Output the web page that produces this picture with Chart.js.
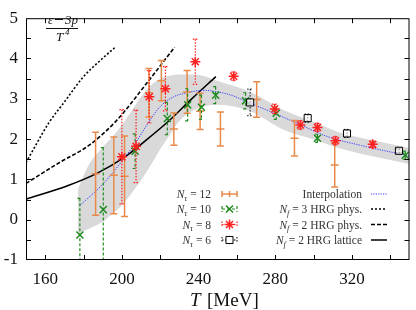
<!DOCTYPE html>
<html>
<head>
<meta charset="utf-8">
<script src="https://cdn.jsdelivr.net/npm/chart.js@4.4.1/dist/chart.umd.min.js"></script>
<style>
  body { margin: 0; background: #fff; }
  #wrap { width: 416px; height: 310px; }
</style>
</head>
<body>
<div id="wrap"><canvas id="chart" width="416" height="310"></canvas></div>
<script>
// values
const xTicks = [160, 200, 240, 280, 320];
const yTicks = [-1, 0, 1, 2, 3, 4, 5];

const nt12T = [186.3, 195.8, 201.4, 214.1, 220.6, 227.1, 234, 240.8, 251.4, 270.3, 290, 311];
const nt12V = [1.14, 1.10, 1.08, 3.15, 3.45, 2.25, 3.17, 2.69, 2.25, 2.98, 2.02, 1.36];
const nt12E = [1.03, 0.95, 1.0, 0.6, 0.5, 0.4, 0.53, 0.45, 0.42, 0.44, 0.44, 0.55];

const nt10T = [178.1, 190.3, 206.9, 223.7, 234.3, 241.5, 248.9, 264.5, 280.5, 302, 347.8];
const nt10V = [-0.38, 0.25, 1.70, 2.51, 2.85, 2.79, 3.09, 2.95, 2.64, 2.02, 1.60];
const nt10E = [0.91, 1.54, 0.43, 0.4, 0.4, 0.3, 0.21, 0.2, 0.15, 0.1, 0.1];

const nt8T = [200, 207.4, 214.3, 222.7, 238.3, 258.3, 279.7, 293.1, 302, 311.4, 330.8];
const nt8V = [1.56, 1.82, 3.05, 3.25, 3.92, 3.56, 2.75, 2.35, 2.29, 1.96, 1.87];
const nt8E = [1.17, 0.9, 0.65, 0.55, 0.56, 0.1, 0.12, 0.1, 0.1, 0.1, 0.08];

const nt6T = [266.9, 296.9, 317.4, 344.5];
const nt6V = [2.91, 2.52, 2.14, 1.71];
const nt6E = [0.33, 0.1, 0.1, 0.05];

const interpT = [178, 190, 200, 207, 214, 220, 227, 234, 243, 250, 257, 265, 281, 291, 308, 325, 350];
const interpV = [0.35, 0.88, 1.45, 1.9, 2.42, 2.81, 3.05, 3.15, 3.21, 3.17, 3.09, 2.93, 2.61, 2.40, 2.05, 1.84, 1.58];

const bandT  = [177, 183, 190, 195, 200, 205, 210, 215, 220, 225, 230, 238, 250, 267, 284, 301, 313, 330, 350];
const bandHi = [0.75, 1.38, 1.8, 2.05, 2.35, 2.7, 3.05, 3.33, 3.5, 3.57, 3.6, 3.6, 3.44, 3.17, 2.73, 2.41, 2.17, 1.98, 1.78];
const bandLo = [-0.36, -0.22, -0.05, 0.15, 0.35, 0.65, 0.98, 1.35, 1.75, 2.1, 2.45, 2.73, 2.85, 2.69, 2.24, 1.98, 1.78, 1.58, 1.38];

const hrg3T = [150, 162, 170, 180, 188, 197];
const hrg3V = [1.42, 2.41, 2.92, 3.55, 3.92, 4.30];
const hrg2T = [150, 167.5, 183, 197, 214, 227.5];
const hrg2V = [0.9, 1.42, 1.85, 2.45, 3.45, 4.28];
const latT = [150, 172, 187, 201, 212, 224, 236, 249];
const latV = [0.51, 0.85, 1.15, 1.54, 1.95, 2.43, 2.98, 3.55];

const pts = (xs, ys) => xs.map((x, i) => ({ x, y: ys[i] }));

const ORANGE = '#e8894a', GREEN = '#1f8a1f', RED = '#ff2020', BLUE = '#3a3aff';
const SERIF = '"Liberation Serif", "DejaVu Serif", serif';

// error bars drawn just before each marker dataset
const errorBars = {
    id: 'errorBars',
    beforeDatasetDraw(chart, args) {
        const ds = chart.data.datasets[args.index];
        if (!ds.errors) return;
        const { ctx, chartArea: a, scales: { x, y } } = chart;
        const c = ds.capSize;
        ctx.save();
        ctx.beginPath();
        ctx.rect(a.left, a.top, a.right - a.left, a.bottom - a.top);
        ctx.clip();
        ctx.strokeStyle = ds.errColor;
        ctx.lineWidth = ds.errWidth;
        ctx.setLineDash(ds.errDash);
        ds.data.forEach((p, i) => {
            const px = x.getPixelForValue(p.x);
            const top = y.getPixelForValue(p.y + ds.errors[i]);
            const bot = y.getPixelForValue(p.y - ds.errors[i]);
            ctx.beginPath();
            ctx.moveTo(px, top); ctx.lineTo(px, bot);
            ctx.moveTo(px - c, top); ctx.lineTo(px + c, top);
            ctx.moveTo(px - c, bot); ctx.lineTo(px + c, bot);
            ctx.stroke();
        });
        ctx.restore();
    }
};

// writes N_sub = ... style text, right aligned at xr
function mathText(ctx, parts, xr, y, size) {
    const fonts = parts.map(p => (p.it ? 'italic ' : '') + (p.sub ? size * 0.72 : size) + 'px ' + SERIF);
    let w = 0;
    parts.forEach((p, i) => { ctx.font = fonts[i]; w += ctx.measureText(p.t).width; });
    let x = xr - w;
    parts.forEach((p, i) => {
        ctx.font = fonts[i];
        ctx.fillText(p.t, x, y + (p.sub ? size * 0.25 : 0));
        x += ctx.measureText(p.t).width;
    });
}

const frame = {
    id: 'frame',
    afterDraw(chart) {
        const { ctx, chartArea: a, scales: { x, y } } = chart;
        ctx.save();
        ctx.textAlign = 'left';
        ctx.textBaseline = 'alphabetic';
        ctx.strokeStyle = '#000';
        ctx.lineWidth = 1;
        ctx.strokeRect(a.left + 0.5, a.top + 0.5, a.right - a.left - 1, a.bottom - a.top - 1);
        ctx.beginPath();
        for (let t = 160; t <= 340; t += 20) {
            const px = Math.round(x.getPixelForValue(t)) + 0.5;
            ctx.moveTo(px, a.bottom); ctx.lineTo(px, a.bottom - 5);
            ctx.moveTo(px, a.top); ctx.lineTo(px, a.top + 5);
        }
        for (let v = -0.5; v < 5; v += 0.5) {
            const py = Math.round(y.getPixelForValue(v)) + 0.5;
            ctx.moveTo(a.left, py); ctx.lineTo(a.left + 5, py);
            ctx.moveTo(a.right, py); ctx.lineTo(a.right - 5, py);
        }
        ctx.stroke();

        // axis title
        ctx.fillStyle = '#111';
        ctx.font = 'italic 19px ' + SERIF;
        ctx.fillText('T', 190, 306);
        ctx.font = '19px ' + SERIF;
        ctx.fillText('[MeV]', 207, 306);

        // (e-3p)/T^4 label
        ctx.font = 'italic 13px ' + SERIF;
        ctx.fillText('\u03B5', 48, 24);
        ctx.fillText('3p', 65, 24);
        ctx.fillText('T', 56, 41);
        ctx.font = 'italic 9px ' + SERIF;
        ctx.fillText('4', 65, 35);
        ctx.fillRect(55, 19, 8, 1);
        ctx.fillRect(46, 28, 32, 1);

        // legend
        ctx.fillStyle = '#333';
        const rows = [194, 209, 224.5, 240];
        const nt = ['12', '10', '8', '6'];
        nt.forEach((n, i) => {
            mathText(ctx, [{ t: 'N', it: true }, { t: '\u03C4', it: true, sub: true }, { t: ' = ' + n }], 211, rows[i] + 4, 11.5);
        });
        const right = [
            [{ t: 'Interpolation' }],
            [{ t: 'N', it: true }, { t: 'f', it: true, sub: true }, { t: ' = 3 HRG phys.' }],
            [{ t: 'N', it: true }, { t: 'f', it: true, sub: true }, { t: ' = 2 HRG phys.' }],
            [{ t: 'N', it: true }, { t: 'f', it: true, sub: true }, { t: ' = 2 HRG lattice' }]
        ];
        right.forEach((r, i) => mathText(ctx, r, 362, rows[i] + 4, 11.5));

        // legend symbols, left block
        const sx0 = 222, sx1 = 237, sm = 229.5;
        const sym = [[ORANGE, [], 1.5], [GREEN, [3, 2], 1.2], [RED, [1.5, 1.5], 1.2], ['#000', [1.5, 1.5], 1]];
        sym.forEach(([col, dash, lw], i) => {
            const ry = rows[i];
            ctx.strokeStyle = col; ctx.lineWidth = lw; ctx.setLineDash(dash);
            ctx.beginPath();
            ctx.moveTo(sx0, ry); ctx.lineTo(sx1, ry);
            ctx.moveTo(sx0, ry - 3); ctx.lineTo(sx0, ry + 3);
            ctx.moveTo(sx1, ry - 3); ctx.lineTo(sx1, ry + 3);
            ctx.stroke();
            ctx.setLineDash([]);
        });
        ctx.lineWidth = 1.5;
        ctx.strokeStyle = ORANGE;
        ctx.beginPath(); ctx.moveTo(sm, rows[0] - 3); ctx.lineTo(sm, rows[0] + 3); ctx.stroke();
        const markers = [['crossRot', GREEN, 'transparent'], ['star', RED, 'transparent'], ['rect', '#000', '#fff']];
        markers.forEach(([style, col, fill], i) => {
            ctx.strokeStyle = col; ctx.fillStyle = fill; ctx.lineWidth = style === 'rect' ? 1 : 1.5;
            Chart.helpers.drawPoint(ctx, { pointStyle: style, radius: 5, borderWidth: ctx.lineWidth }, sm, rows[i + 1]);
        });

        // legend symbols, right block
        const lines = [[BLUE, [1.2, 1.2], 1], ['#000', [2, 2], 1.5], ['#000', [4, 2], 1.5], ['#000', [], 1.5]];
        lines.forEach(([col, dash, lw], i) => {
            ctx.strokeStyle = col; ctx.lineWidth = lw; ctx.setLineDash(dash);
            ctx.beginPath(); ctx.moveTo(371, rows[i]); ctx.lineTo(387, rows[i]); ctx.stroke();
        });
        ctx.restore();
    }
};

const errSet = (label, T, V, E, o) => Object.assign({
    label, data: pts(T, V), errors: E, showLine: false, order: 1
}, o);
const curve = (label, T, V, o) => Object.assign({
    label, data: pts(T, V), showLine: true, pointRadius: 0, borderColor: '#000', borderWidth: 1.6,
    cubicInterpolationMode: 'monotone', order: 3
}, o);

new Chart(document.getElementById('chart'), {
    type: 'scatter',
    data: {
        datasets: [
            errSet('N\u03C4 = 6', nt6T, nt6V, nt6E, {
                pointStyle: 'rect', pointRadius: 5, borderColor: '#000', backgroundColor: 'rgba(255,255,255,0.6)', borderWidth: 1,
                errColor: '#000', errWidth: 1, errDash: [1.5, 1.5], capSize: 3
            }),
            errSet('N\u03C4 = 8', nt8T, nt8V, nt8E, {
                pointStyle: 'star', pointRadius: 5, borderColor: RED, backgroundColor: RED, borderWidth: 1.5,
                errColor: RED, errWidth: 1.2, errDash: [1.5, 1.5], capSize: 2.5
            }),
            errSet('N\u03C4 = 10', nt10T, nt10V, nt10E, {
                pointStyle: 'crossRot', pointRadius: 5, borderColor: GREEN, backgroundColor: GREEN, borderWidth: 1.5,
                errColor: GREEN, errWidth: 1.2, errDash: [3, 2], capSize: 2.5
            }),
            errSet('N\u03C4 = 12', nt12T, nt12V, nt12E, {
                pointStyle: 'line', pointRadius: 4, borderColor: ORANGE, backgroundColor: ORANGE, borderWidth: 1.5,
                errColor: ORANGE, errWidth: 1.5, errDash: [], capSize: 3.5
            }),
            curve('Interpolation', interpT, interpV, { borderColor: BLUE, borderWidth: 1, borderDash: [1.2, 1.2], order: 2 }),
            curve('Nf = 2 HRG lattice', latT, latV, {}),
            curve('Nf = 2 HRG phys.', hrg2T, hrg2V, { borderDash: [4, 2] }),
            curve('Nf = 3 HRG phys.', hrg3T, hrg3V, { borderDash: [2, 2] }),
            curve('band hi', bandT, bandHi, { borderWidth: 0, borderColor: 'rgba(0,0,0,0)', backgroundColor: '#d9d9d9', fill: '+1', order: 4 }),
            curve('band lo', bandT, bandLo, { borderWidth: 0, borderColor: 'rgba(0,0,0,0)', order: 4 })
        ]
    },
    options: {
        responsive: false,
        animation: false,
        layout: { padding: { top: 8, right: 1, left: 0, bottom: 0 } },
        plugins: { legend: { display: false }, tooltip: { enabled: false } },
        scales: {
            x: {
                type: 'linear', min: 150, max: 350,
                grid: { display: false, drawTicks: false },
                border: { display: false },
                afterBuildTicks: s => { s.ticks = xTicks.map(v => ({ value: v })); },
                afterFit: s => { s.height = 50; },
                ticks: { padding: 9, color: '#111', font: { family: SERIF, size: 17 } }
            },
            y: {
                type: 'linear', min: -1, max: 5,
                grid: { display: false, drawTicks: false },
                border: { display: false },
                afterBuildTicks: s => { s.ticks = yTicks.map(v => ({ value: v })); },
                afterFit: s => { s.width = 26; },
                ticks: { padding: 8, color: '#111', font: { family: SERIF, size: 17 } }
            }
        }
    },
    plugins: [errorBars, frame]
});
</script>
</body>
</html>
